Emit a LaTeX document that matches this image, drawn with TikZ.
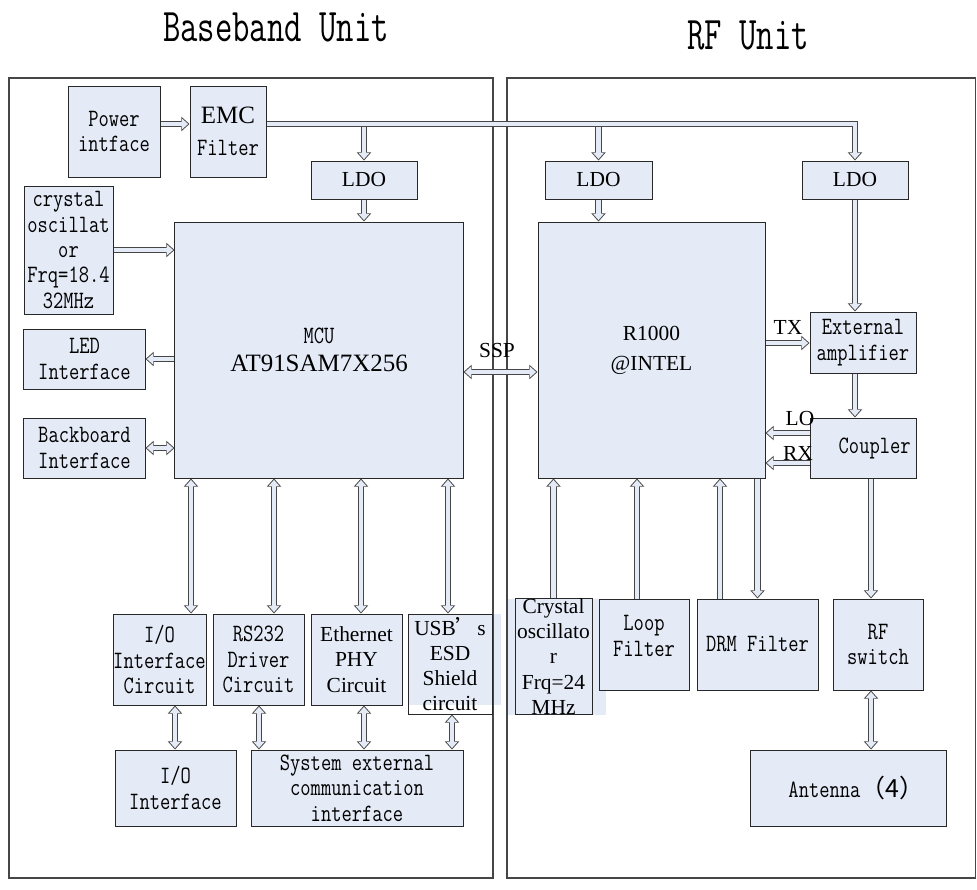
\documentclass[tikz,border=0pt]{standalone}
\usepackage{fontspec}
\usetikzlibrary{arrows.meta}
\newfontfamily\simf[FakeStretch=0.8]{Latin Modern Mono}
\newfontfamily\titf[FakeStretch=0.72]{Latin Modern Mono}
\newfontfamily\timf{Liberation Serif}
\newfontfamily\cjk{Noto Sans CJK SC}
\definecolor{fillc}{RGB}{228,234,246}
\definecolor{edgec}{RGB}{70,70,70}
\definecolor{boxc}{RGB}{40,40,40}

\tikzset{
	blk/.style={draw=boxc, fill=fillc, line width=0.85pt, inner sep=0pt, align=center,
		font=\simf\fontsize{21.3}{21.7}\selectfont},
	tim/.style={font=\timf\fontsize{18.3}{21.5}\selectfont},
	lbl/.style={inner sep=0pt, font=\timf\fontsize{18.3}{21.5}\selectfont},
	pipe/.style={draw=fillc, line width=4.2pt, shorten >=1.2pt,
		-{Triangle[length=5pt,width=8.9pt,line width=0pt]},
		preaction={draw=edgec, line width=5.8pt, shorten >=0pt,
			-{Triangle[length=7pt,width=12.5pt,line width=0pt]}}},
	pipe2/.style={draw=fillc, line width=4.2pt, shorten >=1.2pt, shorten <=1.2pt,
		{Triangle[length=5pt,width=8.9pt,line width=0pt]}-{Triangle[length=5pt,width=8.9pt,line width=0pt]},
		preaction={draw=edgec, line width=5.8pt, shorten >=0pt, shorten <=0pt,
			{Triangle[length=7pt,width=12.5pt,line width=0pt]}-{Triangle[length=7pt,width=12.5pt,line width=0pt]}}}
}

\begin{document}
\begin{tikzpicture}[x=0.03cm, y=-0.03cm]
	\useasboundingbox (0,0) rectangle (977,889);
	% titles
	\node[font=\titf\fontsize{40}{42}\selectfont] (tbb) at (276,27) {Baseband Unit};
	\node[font=\titf\fontsize{40}{42}\selectfont] (trf) at (748,35) {RF Unit};

	% overflowing text fills
	\fill[fillc] (408,614) rectangle (501,705);
	\fill[fillc] (507,599) rectangle (606,715);

	% unit frames
	\draw[edgec, line width=1.1pt] (9,78) rectangle (493,878);
	\draw[edgec, line width=1.1pt] (507,78) rectangle (975.5,878);

	% baseband unit
	\node[blk, minimum width=2.76cm, minimum height=2.73cm] (pwr) at (114,131.5) {Power\\intface};
	\node[blk, minimum width=2.28cm, minimum height=2.73cm] (emc) at (228,131.5) {{\timf EMC}\\[6pt]Filter};
	\node[blk, tim, minimum width=3.18cm, minimum height=1.14cm] (ldoa) at (364,180) {LDO};
	\node[blk, minimum width=2.67cm, minimum height=3.84cm] (xtal) at (68.5,250) {crystal\\oscillat\\or\\Frq=18.4\\32MHz};
	\node[blk, minimum width=8.64cm, minimum height=7.68cm] (mcu) at (319,350) {MCU\\[2pt]{\timf AT91SAM7X256}};
	\node[blk, minimum width=3.63cm, minimum height=1.8cm] (led) at (84.5,359) {LED\\Interface};
	\node[blk, minimum width=3.63cm, minimum height=1.8cm] (bkb) at (84.5,448) {Backboard\\Interface};
	\node[blk, minimum width=2.79cm, minimum height=2.73cm] (ioc) at (159.5,659.5) {I/O\\Interface\\Circuit};
	\node[blk, minimum width=2.73cm, minimum height=2.73cm] (rs) at (258.5,659.5) {RS232\\Driver\\Circuit};
	\node[blk, tim, minimum width=2.73cm, minimum height=2.73cm] (eth) at (356.5,659.5) {Ethernet\\PHY\\Circuit};
	\node[blk, tim, fill=none, minimum width=2.52cm, minimum height=3cm] (usb) at (450,664) {USB{\cjk ’}s\\ESD\\Shield\\circuit};
	\node[blk, minimum width=3.63cm, minimum height=2.28cm] (io) at (175.5,788) {I/O\\Interface};
	\node[blk, minimum width=6.36cm, minimum height=2.28cm] (sys) at (357,788) {System external\\communication\\interface};

	% rf unit
	\node[blk, tim, minimum width=3.21cm, minimum height=1.14cm] (ldob) at (598.5,180) {LDO};
	\node[blk, tim, minimum width=3.18cm, minimum height=1.14cm] (ldoc) at (855,180) {LDO};
	\node[blk, tim, minimum width=6.81cm, minimum height=7.68cm] (rfic) at (651.5,350) {R1000\\[4pt]@INTEL};
	\node[blk, minimum width=3.18cm, minimum height=1.83cm] (amp) at (863,342.5) {External\\amplifier};
	\node[blk, minimum width=3.18cm, minimum height=1.8cm] (cpl) at (863,448) {\hspace*{0.7cm}Coupler};
	\node[blk, tim, fill=none, minimum width=2.31cm, minimum height=3.45cm] (xtalb) at (553.5,656.5) {Crystal\\oscillato\\r\\Frq=24\\MHz};
	\node[blk, minimum width=2.7cm, minimum height=2.73cm] (loop) at (644,644.5) {Loop\\Filter\\[-7pt]\mbox{}};
	\node[blk, minimum width=3.63cm, minimum height=2.73cm] (drm) at (757.5,644.5) {DRM Filter};
	\node[blk, minimum width=2.7cm, minimum height=2.73cm] (rfsw) at (878,644.5) {RF\\switch};
	\node[blk, minimum width=5.88cm, minimum height=2.28cm] (ant) at (848,788) {\hspace*{0.5cm}Antenna{\cjk （4）}};

	% power bus
	\coordinate (bus) at (0,124);
	\draw[pipe] (ldoa.north |- bus) -- (ldoa.north);
	\draw[pipe] (ldob.north |- bus) -- (ldob.north);
	\draw[pipe] (emc.east |- bus) -| (ldoc.north);
	\draw[pipe] (pwr.east |- bus) -- (emc.west |- bus);
	\draw[pipe] (ldoa.south) -- (ldoa.south |- mcu.north);
	\draw[pipe] (ldob.south) -- (ldob.south |- rfic.north);
	\draw[pipe] (ldoc.south) -- (amp.north -| ldoc.south);

	% baseband links
	\draw[pipe] (xtal.east) -- (xtal.east -| mcu.west);
	\draw[pipe] (mcu.west |- led.east) -- (led.east);
	\draw[pipe2] (bkb.east) -- (bkb.east -| mcu.west);
	\draw[pipe2] (mcu.east |- 0,372) -- (rfic.west |- 0,372);
	\node[lbl] (ssp) at (497,351) {SSP};
	\foreach \n/\x in {ioc/191, rs/274, eth/361, usb/448}
	\draw[pipe2] (mcu.south -| \x,0) -- (\n.north -| \x,0);
	\foreach \n/\m/\x in {ioc/io/175, rs/sys/259, eth/sys/364, usb/sys/452}
	\draw[pipe2] (\n.south -| \x,0) -- (\m.north -| \x,0);

	% rf links
	\draw[pipe] (rfic.east |- 0,343) -- (amp.west |- 0,343);
	\draw[pipe] (amp.south -| ldoc.south) -- (cpl.north -| ldoc.south);
	\draw[pipe] (cpl.west |- 0,433) -- (rfic.east |- 0,433);
	\draw[pipe] (cpl.west |- 0,463) -- (rfic.east |- 0,463);
	\node[lbl] (tx) at (788,327) {TX};
	\node[lbl] (lo) at (800,418) {LO};
	\node[lbl] (rx) at (798,453) {RX};
	\draw[pipe] (xtalb.north) -- (xtalb.north |- rfic.south);
	\draw[pipe] (loop.north -| 637,0) -- (rfic.south -| 637,0);
	\draw[pipe] (drm.north -| 720,0) -- (rfic.south -| 720,0);
	\draw[pipe] (rfic.south -| drm.north) -- (drm.north);
	\draw[pipe] (cpl.south -| 871,0) -- (rfsw.north -| 871,0);
	\draw[pipe2] (rfsw.south -| 871,0) -- (ant.north -| 871,0);
\end{tikzpicture}
\end{document}
